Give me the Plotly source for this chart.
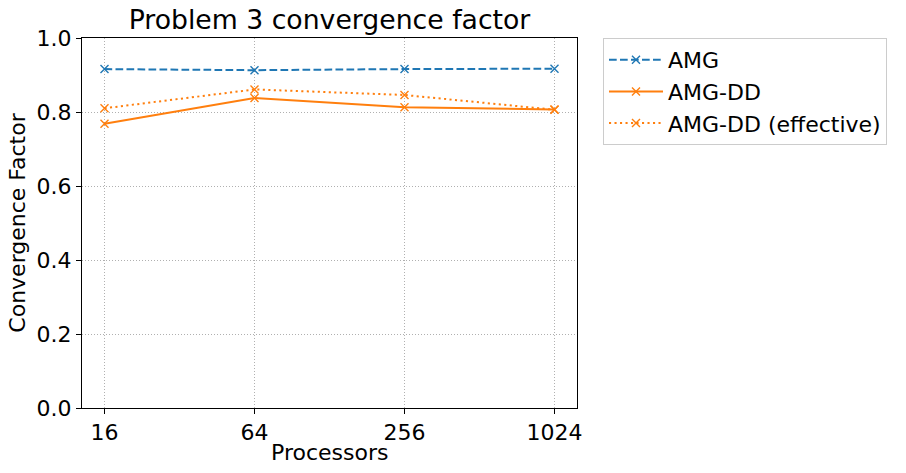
import math
import plotly.graph_objects as go

processors = [16, 64, 256, 1024]
tick_labels = ["16", "64", "256", "1024"]
amg = [0.916, 0.913, 0.916, 0.917]
amg_dd = [0.768, 0.838, 0.813, 0.807]
amg_dd_eff = [0.810, 0.861, 0.846, 0.806]

blue = "#1f77b4"
orange = "#ff7f0e"
font = "DejaVu Sans"

W, H = 906, 473
L, R, T, B = 82, 906 - 577, 38, 473 - 408

fig = go.Figure()
series = [
    ("AMG", amg, blue, "7.7px,3.3px"),
    ("AMG-DD", amg_dd, orange, "solid"),
    ("AMG-DD (effective)", amg_dd_eff, orange, "2.1px,3.4px"),
]
for name, vals, col, dash in series:
    fig.add_trace(go.Scatter(
        x=processors, y=vals, name=name, mode="lines+markers",
        line=dict(color=col, width=2, dash=dash),
        marker=dict(symbol="x-thin", size=8, line=dict(color=col, width=1.4), color=col),
    ))

lo = math.log2(min(processors))
hi = math.log2(max(processors))
m = 0.05 * (hi - lo)
xr = [(lo - m) * math.log10(2), (hi + m) * math.log10(2)]

axis_common = dict(
    showline=True, linecolor="black", linewidth=1.1, mirror=True,
    ticks="outside", ticklen=5, tickwidth=1.1, tickcolor="black",
    showgrid=True, gridcolor="#b0b0b0", gridwidth=0.8, griddash="1.1px,1.9px",
    zeroline=False, automargin=False,
    tickfont=dict(family=font, size=22, color="black"),
    title_font=dict(family=font, size=22, color="black"),
)

fig.update_xaxes(type="log", range=xr, tickvals=processors, ticktext=tick_labels, **axis_common)
fig.update_yaxes(range=[0, 1], tickvals=[0, 0.2, 0.4, 0.6, 0.8, 1.0],
                 ticktext=["0.0", "0.2", "0.4", "0.6", "0.8", "1.0"],
                 title_text="Convergence Factor", title_standoff=4, **axis_common)

fig.add_annotation(text="Processors", xref="paper", yref="paper", x=0.5, y=0,
                   xanchor="center", yanchor="middle", yshift=-44, showarrow=False,
                   font=dict(family=font, size=22, color="black"))

fig.update_layout(
    width=W, height=H,
    margin=dict(l=L, r=R, t=T, b=B),
    plot_bgcolor="white", paper_bgcolor="white",
    title=dict(text="Problem 3 convergence factor",
               x=((82 + 577) / 2) / W, xanchor="center",
               y=1 - 20 / H, yanchor="middle",
               font=dict(family=font, size=26.7, color="black")),
    legend=dict(x=(603 - 82) / (577 - 82), y=1.0, xanchor="left", yanchor="top",
                bgcolor="white", bordercolor="#cccccc", borderwidth=1,
                itemwidth=54,
                font=dict(family=font, size=22, color="black")),
    font=dict(family=font),
)

fig.write_html("out.html", config={"displayModeBar": False},
               post_script="document.body.style.margin='0';")
